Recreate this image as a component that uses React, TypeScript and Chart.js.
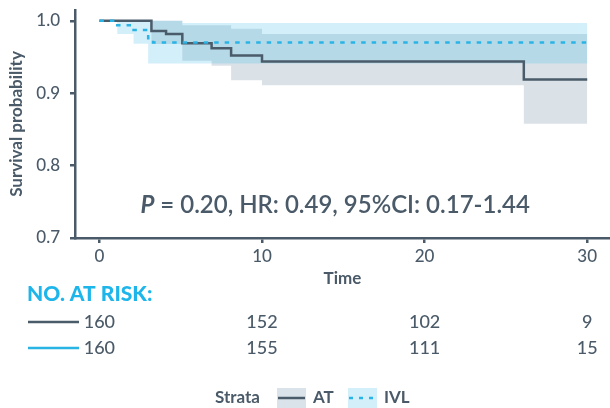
import React, { useEffect, useRef } from 'react';
import { Chart, registerables } from 'chart.js';

Chart.register(...registerables);

// ---- data ----
const timesAT = [0, 3.2, 4.1, 5.1, 6.9, 8.1, 10.0, 26.1, 30];
const survAT = [1.0, 0.986, 0.982, 0.969, 0.962, 0.952, 0.944, 0.919, 0.919];
const upperAT = [1.0, 1.0, 1.0, 0.994, 0.994, 0.989, 0.982, 0.982, 0.982];
const lowerAT = [1.0, 0.968, 0.968, 0.945, 0.938, 0.918, 0.911, 0.858, 0.858];

const timesIVL = [0, 1.1, 2.1, 3.0, 3.3, 5.1, 30];
const survIVL = [1.0, 0.994, 0.9875, 0.976, 0.97, 0.97, 0.97];
const upperIVL = [1.0, 1.0, 1.0, 1.0, 1.0, 0.997, 0.997];
const lowerIVL = [1.0, 0.982, 0.9685, 0.941, 0.941, 0.941, 0.941];

const xTicks = [0, 10, 20, 30];
const yTicks = [0.7, 0.8, 0.9, 1.0];

const riskTimes = [0, 10, 20, 30];
const riskAT = [160, 152, 102, 9];
const riskIVL = [160, 155, 111, 15];

const strataNames = ['AT', 'IVL'];
const annotationText = ['P', ' = 0.20, HR: 0.49, 95%CI: 0.17-1.44'];
const annotationAt = { t: 14.5, s: 0.7455 };

// ---- style ----
const FONT = 'Lato, "Open Sans", sans-serif';
const DARK = '#4a5a68';
const AT_LINE = '#4a5b6a';
const IVL_LINE = '#2ab4e6';
const CYAN = '#1eb6ea';
const AT_FILL = 'rgba(72, 110, 140, 0.2)';
const IVL_FILL = 'rgba(55, 182, 232, 0.22)';
const AT_BOX = '#dae3ea';
const IVL_BOX = '#d3effa';

const pts = (xs: number[], ys: number[]) => xs.map((x, i) => ({ x, y: ys[i] }));

export default function App() {
  const ref = useRef<HTMLCanvasElement>(null);

  useEffect(() => {
    document.body.style.margin = '0';
    const canvas = ref.current!;

    const overlay = {
      id: 'overlay',
      afterDraw(chart: any) {
        const { ctx, scales } = chart;
        const xs = scales.x;
        const ys = scales.y;
        ctx.save();

        // annotation
        ctx.fillStyle = DARK;
        ctx.textBaseline = 'middle';
        const fItalic = `italic 700 24px ${FONT}`;
        const fNormal = `600 24px ${FONT}`;
        ctx.font = fItalic;
        const w1 = ctx.measureText(annotationText[0]).width;
        ctx.font = fNormal;
        const w2 = ctx.measureText(annotationText[1]).width;
        const cx = xs.getPixelForValue(annotationAt.t);
        const cy = ys.getPixelForValue(annotationAt.s);
        const x0 = cx - (w1 + w2) / 2;
        ctx.textAlign = 'left';
        ctx.font = fItalic;
        ctx.fillText(annotationText[0], x0, cy);
        ctx.font = fNormal;
        ctx.fillText(annotationText[1], x0 + w1, cy);

        // risk table
        ctx.font = `900 21px ${FONT}`;
        ctx.fillStyle = CYAN;
        ctx.textAlign = 'left';
        ctx.fillText('NO. AT RISK:', 27, 294);

        const rows = [
          { y: 322, color: AT_LINE, vals: riskAT },
          { y: 348, color: IVL_LINE, vals: riskIVL },
        ];
        rows.forEach((r) => {
          ctx.strokeStyle = r.color;
          ctx.lineWidth = 2.5;
          ctx.setLineDash([]);
          ctx.beginPath();
          ctx.moveTo(28, r.y);
          ctx.lineTo(79, r.y);
          ctx.stroke();
          ctx.fillStyle = DARK;
          ctx.font = `500 18px ${FONT}`;
          ctx.textAlign = 'center';
          r.vals.forEach((v, i) => {
            ctx.fillText(String(v), xs.getPixelForValue(riskTimes[i]), r.y);
          });
        });

        // legend
        const ly = 398;
        ctx.font = `bold 17px ${FONT}`;
        ctx.fillStyle = DARK;
        ctx.textAlign = 'left';
        ctx.fillText('Strata', 215, ly);
        // AT key
        ctx.fillStyle = AT_BOX;
        ctx.fillRect(277, 388, 29, 22);
        ctx.strokeStyle = AT_LINE;
        ctx.lineWidth = 2.5;
        ctx.beginPath();
        ctx.moveTo(278, ly);
        ctx.lineTo(305, ly);
        ctx.stroke();
        ctx.fillStyle = DARK;
        ctx.fillText(strataNames[0], 313, ly);
        // IVL key
        ctx.fillStyle = IVL_BOX;
        ctx.fillRect(348, 388, 29, 22);
        ctx.strokeStyle = IVL_LINE;
        ctx.setLineDash([4, 6]);
        ctx.beginPath();
        ctx.moveTo(349, ly);
        ctx.lineTo(377, ly);
        ctx.stroke();
        ctx.setLineDash([]);
        ctx.fillStyle = DARK;
        ctx.fillText(strataNames[1], 384, ly);

        ctx.restore();
      },
    };

    const common = { pointRadius: 0, stepped: 'before' as const, tension: 0 };

    const chart = new Chart(canvas, {
      type: 'line',
      data: {
        datasets: [
          {
            ...common,
            label: 'IVL',
            data: pts(timesIVL, survIVL),
            borderColor: IVL_LINE,
            borderWidth: 2.5,
            borderDash: [4.5, 6],
            fill: false,
          },
          {
            ...common,
            label: 'AT',
            data: pts(timesAT, survAT),
            borderColor: AT_LINE,
            borderWidth: 2.5,
            fill: false,
          },
          {
            ...common,
            label: 'IVL upper',
            data: pts(timesIVL, upperIVL),
            borderWidth: 0,
            borderColor: 'rgba(0,0,0,0)',
            backgroundColor: IVL_FILL,
            fill: '+1',
          },
          {
            ...common,
            label: 'IVL lower',
            data: pts(timesIVL, lowerIVL),
            borderWidth: 0,
            borderColor: 'rgba(0,0,0,0)',
            fill: false,
          },
          {
            ...common,
            label: 'AT upper',
            data: pts(timesAT, upperAT),
            borderWidth: 0,
            borderColor: 'rgba(0,0,0,0)',
            backgroundColor: AT_FILL,
            fill: '+1',
          },
          {
            ...common,
            label: 'AT lower',
            data: pts(timesAT, lowerAT),
            borderWidth: 0,
            borderColor: 'rgba(0,0,0,0)',
            fill: false,
          },
        ],
      },
      options: {
        responsive: false,
        animation: false,
        devicePixelRatio: 1,
        layout: { padding: { left: 0, right: 0, top: 10, bottom: 112 } },
        plugins: {
          legend: { display: false },
          tooltip: { enabled: false },
          filler: { propagate: false },
        },
        scales: {
          x: {
            type: 'linear',
            min: -1.5,
            max: 31.4,
            afterFit: (s: any) => {
              s.height = 58;
              s.paddingLeft = 0;
              s.paddingRight = 0;
            },
            afterBuildTicks: (s: any) => {
              s.ticks = xTicks.map((v) => ({ value: v }));
            },
            ticks: {
              color: DARK,
              font: { family: FONT, size: 17, weight: '500' },
              padding: 3,
              callback: (v: any) => String(v),
            },
            grid: {
              display: true,
              drawOnChartArea: false,
              drawTicks: true,
              tickLength: 5,
              color: DARK,
              lineWidth: 2.5,
            },
            border: { display: true, color: DARK, width: 2.5 },
            title: {
              display: true,
              text: 'Time',
              color: DARK,
              font: { family: FONT, size: 17, weight: 'bold' },
              padding: { top: 0, bottom: 7 },
            },
          },
          y: {
            type: 'linear',
            min: 0.7,
            max: 1.015,
            afterFit: (s: any) => {
              s.width = 75;
              s.paddingTop = 0;
              s.paddingBottom = 0;
            },
            afterBuildTicks: (s: any) => {
              s.ticks = yTicks.map((v) => ({ value: v }));
            },
            ticks: {
              color: DARK,
              font: { family: FONT, size: 17, weight: '500' },
              padding: 10,
              callback: (v: any) => Number(v).toFixed(1),
            },
            grid: {
              display: true,
              drawOnChartArea: false,
              drawTicks: true,
              tickLength: 5,
              color: DARK,
              lineWidth: 2.5,
            },
            border: { display: true, color: DARK, width: 2.5 },
            title: {
              display: true,
              text: 'Survival probability',
              color: DARK,
              font: { family: FONT, size: 17, weight: 'bold' },
              padding: { top: 6, bottom: 0 },
            },
          },
        },
      },
      plugins: [overlay],
    });

    return () => chart.destroy();
  }, []);

  return (
    <canvas
      ref={ref}
      width={610}
      height={408}
      style={{ display: 'block', width: 610, height: 408 }}
    />
  );
}
